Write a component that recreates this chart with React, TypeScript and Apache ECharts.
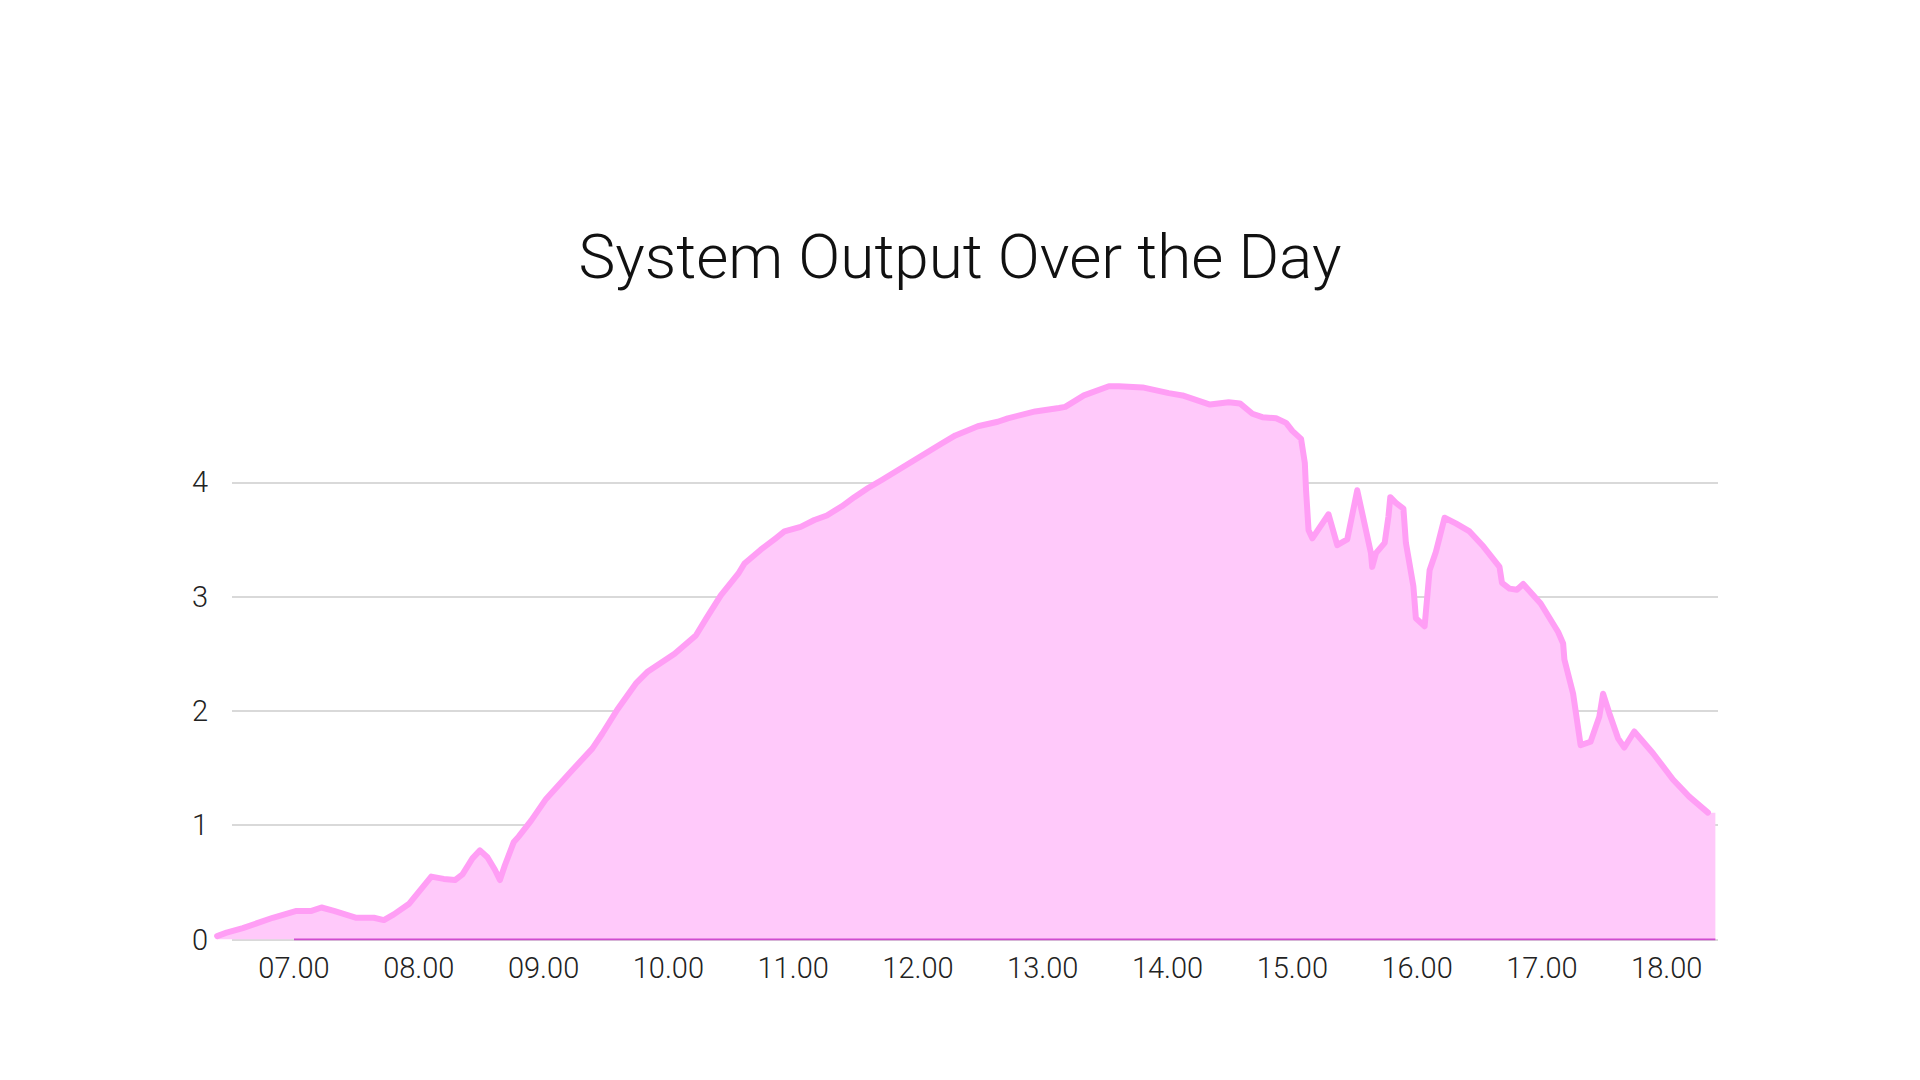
import { useEffect, useRef } from 'react';
import * as echarts from 'echarts';

const title = 'System Output Over the Day';

// time of day in decimal hours
const hours = [
  6.384, 6.46, 6.59, 6.83, 7.02, 7.14, 7.22, 7.32, 7.5, 7.64, 7.72, 7.8, 7.92, 8.01, 8.1, 8.2,
  8.29, 8.35, 8.43, 8.49, 8.55, 8.61, 8.65, 8.69, 8.76, 8.8, 8.9, 9.02, 9.22, 9.39, 9.47, 9.59,
  9.74, 9.83, 10.05, 10.22, 10.31, 10.42, 10.56, 10.61, 10.74, 10.86, 10.93, 11.06, 11.17,
  11.27, 11.39, 11.49, 11.6, 11.71, 11.95, 12.19, 12.3, 12.48, 12.64, 12.72, 12.94, 13.13,
  13.18, 13.33, 13.53, 13.61, 13.8, 14.01, 14.12, 14.34, 14.49, 14.58, 14.68, 14.76, 14.87,
  14.95, 15.0, 15.07, 15.1, 15.11, 15.13, 15.16, 15.29, 15.36, 15.44, 15.52, 15.63, 15.64,
  15.67, 15.74, 15.77, 15.785, 15.83, 15.89, 15.91, 15.97, 15.99, 16.06, 16.1, 16.15, 16.22,
  16.31, 16.42, 16.53, 16.66, 16.68, 16.74, 16.8, 16.85, 16.99, 17.13, 17.17, 17.18, 17.25,
  17.31, 17.39, 17.46, 17.49, 17.54, 17.61, 17.66, 17.74, 17.89, 18.05, 18.18, 18.33,
];

const output = [
  0.03, 0.06, 0.1, 0.19, 0.25, 0.25, 0.28, 0.25, 0.19, 0.19, 0.17, 0.22, 0.31, 0.43, 0.55, 0.53,
  0.52, 0.57, 0.71, 0.78, 0.72, 0.61, 0.52, 0.65, 0.85, 0.9, 1.04, 1.23, 1.47, 1.67, 1.8, 2.01,
  2.24, 2.34, 2.5, 2.66, 2.82, 3.01, 3.2, 3.29, 3.41, 3.51, 3.57, 3.61, 3.67,
  3.71, 3.79, 3.87, 3.95, 4.02, 4.18, 4.34, 4.41, 4.49, 4.53, 4.56, 4.62, 4.65,
  4.66, 4.76, 4.84, 4.84, 4.83, 4.78, 4.76, 4.68, 4.7, 4.69, 4.6, 4.57, 4.56,
  4.52, 4.45, 4.38, 4.17, 3.93, 3.58, 3.51, 3.72, 3.45, 3.5, 3.93, 3.38, 3.26,
  3.38, 3.47, 3.7, 3.87, 3.82, 3.77, 3.47, 3.09, 2.81, 2.74, 3.23, 3.39, 3.69,
  3.64, 3.57, 3.44, 3.26, 3.12, 3.07, 3.06, 3.11, 2.94, 2.69, 2.59, 2.45, 2.15,
  1.7, 1.73, 1.95, 2.15, 1.98, 1.76, 1.68, 1.82, 1.63, 1.4, 1.25, 1.11,
];

// the shaded area runs a little past the end of the line
const fillEnd = [18.39, 1.11];

// darker rule along zero, from 07.00 to the end of the fill
const baseline = [
  [7, 0],
  [18.39, 0],
];

const hourTicks = [7, 8, 9, 10, 11, 12, 13, 14, 15, 16, 17, 18];
const xMin = 6.383;
const xMax = 18.411;
const yMax = 5;

const font = 'Roboto, "Noto Sans", sans-serif';

export default function App() {
  const ref = useRef<HTMLDivElement | null>(null);

  useEffect(() => {
    if (!ref.current) return;
    const chart = echarts.init(ref.current, undefined, { renderer: 'svg' });
    const points = hours.map((h, i) => [h, output[i]]);

    chart.setOption({
      animation: false,
      backgroundColor: '#ffffff',
      title: {
        text: title,
        left: 'center',
        top: 220,
        textStyle: {
          fontFamily: font,
          fontWeight: 300,
          fontSize: 62,
          color: '#111111',
        },
      },
      grid: [
        { left: 232, right: 202, top: 368, bottom: 140.5 },
        { left: 217, right: 202, top: 368, bottom: 140.5 },
      ],
      xAxis: [
        { type: 'value', gridIndex: 0, min: xMin, max: xMax, show: false },
        {
          type: 'value',
          gridIndex: 1,
          min: xMin,
          max: xMax,
          axisLine: { show: false },
          axisTick: { show: false },
          splitLine: { show: false },
          axisLabel: {
            customValues: hourTicks,
            margin: 14,
            fontFamily: font,
            fontWeight: 300,
            fontSize: 29,
            color: '#222222',
            formatter: (v: number) => `${String(Math.round(v)).padStart(2, '0')}.00`,
          },
        },
      ],
      yAxis: [
        {
          type: 'value',
          gridIndex: 0,
          min: 0,
          max: yMax,
          interval: 1,
          axisLine: { show: false },
          axisTick: { show: false },
          splitLine: {
            show: true,
            showMaxLine: false,
            lineStyle: { color: '#cccccc', width: 1.5 },
          },
          axisLabel: {
            margin: 24,
            showMaxLabel: false,
            fontFamily: font,
            fontWeight: 300,
            fontSize: 29,
            color: '#222222',
          },
        },
        { type: 'value', gridIndex: 1, min: 0, max: yMax, show: false },
      ],
      series: [
        {
          name: 'fill',
          type: 'line',
          xAxisIndex: 1,
          yAxisIndex: 1,
          data: [...points, fillEnd],
          showSymbol: false,
          lineStyle: { width: 0, opacity: 0 },
          areaStyle: { color: '#ffc9fa', opacity: 1 },
          z: 2,
        },
        {
          name: 'baseline',
          type: 'line',
          xAxisIndex: 1,
          yAxisIndex: 1,
          data: baseline,
          showSymbol: false,
          lineStyle: { color: '#cf4ccf', width: 2 },
          z: 3,
        },
        {
          name: 'System output',
          type: 'line',
          xAxisIndex: 1,
          yAxisIndex: 1,
          data: points,
          showSymbol: false,
          smooth: false,
          lineStyle: { color: '#ff9ef5', width: 6, join: 'round', cap: 'round' },
          z: 4,
        },
      ],
    });

    return () => chart.dispose();
  }, []);

  return (
    <div
      ref={ref}
      style={{ position: 'fixed', left: 0, top: 0, width: 1920, height: 1080, background: '#fff' }}
    />
  );
}
